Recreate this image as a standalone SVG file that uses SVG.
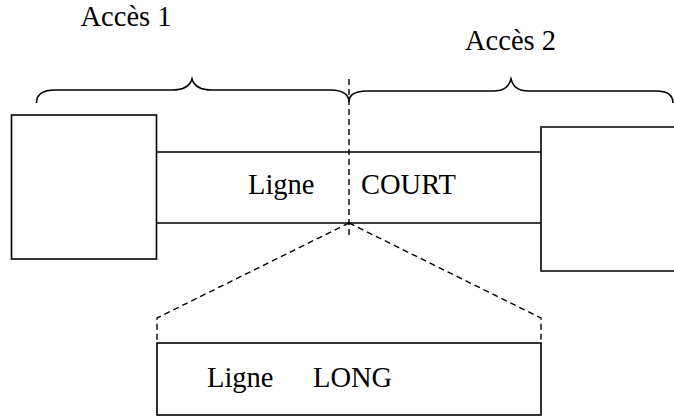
<svg xmlns="http://www.w3.org/2000/svg" width="674" height="417" viewBox="0 0 674 417">
<style>
.s{fill:none;stroke:#000;stroke-width:1.6}
.d{fill:none;stroke:#000;stroke-width:1.4;stroke-dasharray:6,4}
.t{font-family:"Liberation Serif","Times New Roman",serif;font-size:28.5px;fill:#000}
</style>
<rect width="674" height="417" fill="#fff"/>
<g id="acces1">
<path class="s" d="M36.5,103 C36.5,95 42,90 55,90 L172,90 C184,90 190,86 192,79 C194,86 200,90 212,90 L331,90 C343,90 349,95 349,102"/>
<text class="t" x="80.5" y="26">Accès 1</text>
</g>
<g id="acces2">
<path class="s" d="M349,102 C349,95 355,91 367,91 L493,91 C505,91 509,86 511,79 C513,86 517,91 529,91 L656,91 C668,91 673,96 673,103"/>
<text class="t" x="465" y="49.5">Accès 2</text>
</g>
<g id="box-left">
<rect class="s" x="11.5" y="115" width="145" height="144"/>
</g>
<g id="box-right">
<path class="s" d="M675,127 L541,127 L541,271 L675,271"/>
</g>
<g id="ligne-court">
<path class="s" d="M157,152 L541,152 M157,223 L541,223"/>
<text class="t" x="248" y="194">Ligne</text>
<text class="t" x="361" y="194">COURT</text>
</g>
<g id="ligne-long">
<rect class="s" x="157" y="343" width="384" height="72"/>
<text class="t" x="207" y="387">Ligne</text>
<text class="t" x="313" y="387">LONG</text>
</g>
<g id="connectors">
<path class="d" d="M349,79 L349,238"/>
<path class="d" d="M349,223 L157,318 L157,340"/>
<path class="d" d="M349,223 L541,318 L541,340"/>
</g>
</svg>
